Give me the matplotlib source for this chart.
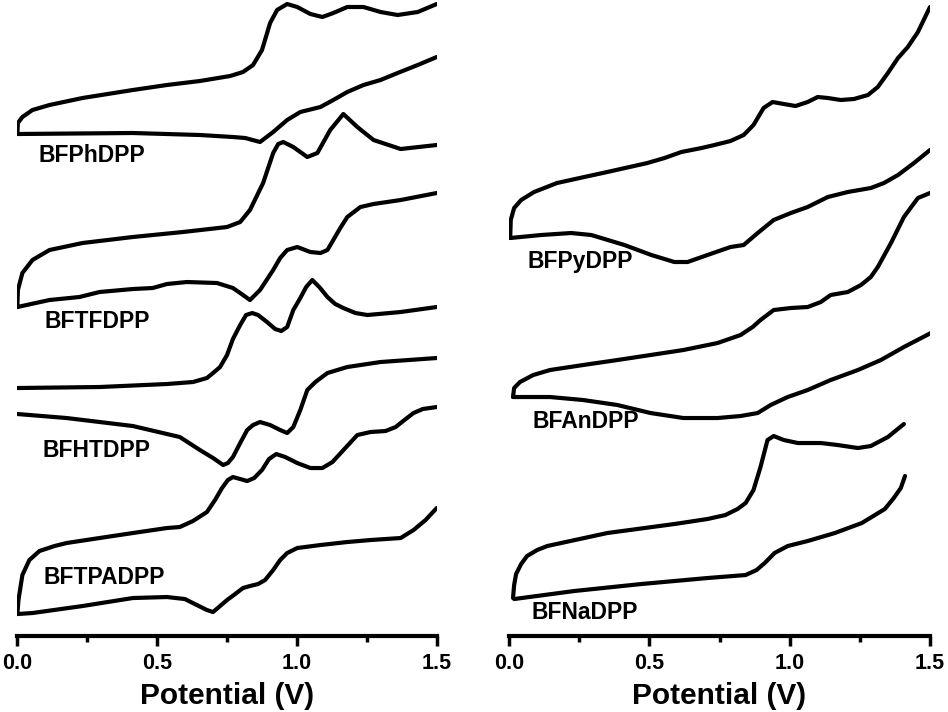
import matplotlib
matplotlib.use("Agg")
import matplotlib.pyplot as plt
from matplotlib.ticker import MultipleLocator

plt.rcParams['font.family'] = ['Liberation Sans', 'DejaVu Sans']
plt.rcParams['font.weight'] = 'bold'

# ---------------- left panel (potential in V, current in a.u. incl. offset) ----------------
# BFPhDPP
phdpp_fwd_v = [0, 0.002, 0.018, 0.054, 0.115, 0.233, 0.413, 0.535, 0.653, 0.761, 0.807, 0.843,
               0.875, 0.904, 0.929, 0.965, 1.001, 1.048, 1.091, 1.130, 1.180, 1.238, 1.299,
               1.360, 1.432, 1.5]
phdpp_fwd_i = [50.2, 51.3, 51.9, 52.6, 53.1, 53.8, 54.6, 55.1, 55.5, 56.0, 56.4, 57.1,
               58.6, 61.3, 62.6, 63.2, 62.9, 62.2, 61.9, 62.3, 62.9, 62.9, 62.4,
               62.1, 62.4, 63.2]
phdpp_rev_v = [1.5, 1.432, 1.360, 1.299, 1.238, 1.180, 1.130, 1.084, 1.012, 0.965, 0.915,
               0.868, 0.815, 0.771, 0.653, 0.413, 0]
phdpp_rev_i = [57.9, 57.1, 56.3, 55.6, 55.1, 54.4, 53.6, 52.9, 52.4, 51.6, 50.4,
               49.4, 49.8, 49.9, 50.1, 50.3, 50.2]

# BFTFDPP
tfdpp_fwd_v = [0, 0.002, 0.018, 0.054, 0.115, 0.233, 0.413, 0.592, 0.750, 0.797, 0.832,
               0.879, 0.915, 0.933, 0.951, 0.987, 1.037, 1.073, 1.119, 1.166, 1.216,
               1.274, 1.371, 1.5]
tfdpp_fwd_i = [32.9, 34.6, 36.3, 37.6, 38.6, 39.3, 39.9, 40.4, 40.9, 41.4, 42.6,
               45.3, 48.3, 49.2, 49.4, 48.9, 47.9, 48.3, 50.6, 52.2, 50.9,
               49.6, 48.7, 49.1]
tfdpp_rev_v = [1.5, 1.371, 1.274, 1.227, 1.180, 1.155, 1.130, 1.109, 1.084, 1.048, 1.001,
               0.965, 0.940, 0.915, 0.868, 0.832, 0.797, 0.771, 0.714, 0.606, 0.535,
               0.484, 0.413, 0.294, 0.222, 0.115, 0]
tfdpp_rev_i = [44.3, 43.6, 43.2, 42.9, 41.9, 40.8, 39.6, 38.6, 38.3, 38.4, 38.9,
               38.6, 37.8, 36.6, 34.6, 33.6, 34.3, 34.8, 35.3, 35.4, 35.2,
               34.8, 34.7, 34.4, 33.9, 33.6, 32.9]

# BFHTDPP
htdpp_fwd_v = [0, 0.294, 0.535, 0.628, 0.678, 0.700, 0.725, 0.750, 0.771, 0.797, 0.818,
               0.840, 0.861, 0.893, 0.922, 0.944, 0.965, 0.987, 1.012, 1.033, 1.055,
               1.080, 1.109, 1.137, 1.166, 1.209, 1.252, 1.371, 1.5]
htdpp_fwd_i = [24.8, 24.9, 25.2, 25.4, 25.8, 26.3, 26.9, 28.1, 29.7, 31.1, 32.1,
               32.3, 32.1, 31.4, 30.7, 30.5, 30.9, 32.6, 33.8, 34.9, 35.6,
               34.9, 33.9, 33.2, 32.8, 32.3, 32.1, 32.4, 32.9]
htdpp_rev_v = [1.5, 1.299, 1.180, 1.109, 1.066, 1.037, 1.012, 0.987, 0.965, 0.940, 0.904,
               0.868, 0.843, 0.822, 0.797, 0.771, 0.753, 0.736, 0.700, 0.653, 0.581,
               0.413, 0.176, 0]
htdpp_rev_i = [27.8, 27.4, 26.9, 26.3, 25.4, 24.6, 22.6, 20.9, 20.3, 20.6, 21.1,
               21.4, 21.1, 20.6, 19.3, 17.9, 17.3, 17.1, 17.8, 18.6, 19.9,
               21.0, 21.8, 22.2]

# BFTPADPP
tpadpp_fwd_v = [0, 0.004, 0.018, 0.043, 0.079, 0.133, 0.176, 0.294, 0.413, 0.535, 0.581,
                0.628, 0.678, 0.707, 0.732, 0.753, 0.771, 0.797, 0.822, 0.847, 0.875,
                0.900, 0.926, 0.958, 1.001, 1.048, 1.091, 1.127, 1.173, 1.216, 1.263,
                1.317, 1.353, 1.389, 1.417, 1.450, 1.5]
tpadpp_fwd_i = [2.2, 3.6, 6.1, 7.6, 8.5, 9.0, 9.3, 9.8, 10.3, 10.8, 10.9,
                11.5, 12.4, 13.6, 14.8, 15.6, 15.9, 15.7, 15.5, 15.8, 16.6,
                17.7, 18.2, 17.9, 17.3, 16.8, 16.8, 17.4, 18.8, 20.1, 20.4,
                20.5, 20.9, 21.7, 22.3, 22.7, 22.9]
tpadpp_rev_v = [1.5, 1.460, 1.417, 1.371, 1.263, 1.180, 1.084, 1.001, 0.965, 0.940, 0.915,
                0.886, 0.861, 0.832, 0.807, 0.779, 0.750, 0.725, 0.700, 0.678, 0.642,
                0.599, 0.535, 0.413, 0.233, 0.054, 0]
tpadpp_rev_i = [12.8, 11.6, 10.6, 9.8, 9.6, 9.4, 9.1, 8.8, 8.3, 7.6, 6.6,
                5.6, 5.2, 5.0, 4.8, 4.2, 3.6, 3.0, 2.4, 2.6, 3.1,
                3.7, 3.9, 3.8, 3.0, 2.3, 2.2]

# ---------------- right panel ----------------
# BFPyDPP
pydpp_fwd_v = [0.004, 0.006, 0.018, 0.043, 0.089, 0.171, 0.268, 0.350, 0.493, 0.554, 0.614,
               0.686, 0.732, 0.789, 0.836, 0.871, 0.907, 0.939, 0.979, 1.021, 1.064,
               1.100, 1.136, 1.182, 1.229, 1.279, 1.314, 1.350, 1.386, 1.421, 1.457, 1.5]
pydpp_fwd_i = [39.8, 41.6, 42.8, 43.6, 44.4, 45.3, 45.9, 46.4, 47.3, 47.8, 48.4,
               48.8, 49.1, 49.5, 50.1, 51.1, 52.8, 53.4, 53.2, 53.0, 53.4,
               53.9, 53.8, 53.6, 53.7, 54.1, 54.9, 56.3, 57.8, 58.9, 60.4, 62.9]
pydpp_rev_v = [1.5, 1.443, 1.386, 1.336, 1.289, 1.207, 1.136, 1.064, 1.004, 0.943, 0.886,
               0.836, 0.789, 0.707, 0.636, 0.589, 0.507, 0.411, 0.293, 0.221, 0.114, 0.004]
pydpp_rev_i = [48.6, 47.3, 46.1, 45.3, 44.8, 44.4, 43.9, 42.9, 42.3, 41.6, 40.3,
               39.1, 38.9, 38.1, 37.4, 37.4, 38.1, 39.1, 40.1, 40.3, 40.1, 39.8]

# BFAnDPP
andpp_fwd_v = [0.014, 0.018, 0.039, 0.086, 0.146, 0.264, 0.386, 0.504, 0.621, 0.743, 0.825,
               0.868, 0.896, 0.943, 1.004, 1.064, 1.111, 1.146, 1.207, 1.254, 1.289,
               1.314, 1.361, 1.407, 1.457, 1.5]
andpp_fwd_i = [23.9, 24.8, 25.4, 26.1, 26.6, 27.1, 27.6, 28.1, 28.6, 29.3, 30.1,
               30.9, 31.6, 32.6, 32.8, 32.9, 33.4, 34.1, 34.4, 35.1, 35.9,
               36.9, 39.3, 41.9, 43.8, 44.3]
andpp_rev_v = [1.51, 1.407, 1.325, 1.243, 1.146, 1.064, 0.993, 0.932, 0.886, 0.825, 0.743,
               0.621, 0.504, 0.386, 0.264, 0.146, 0.014]
andpp_rev_i = [30.4, 28.9, 27.6, 26.6, 25.6, 24.6, 23.9, 23.1, 22.3, 22.0, 21.8,
               21.8, 22.3, 23.1, 23.6, 23.9, 23.9]

# BFNaDPP
nadpp_fwd_v = [0.014, 0.018, 0.025, 0.043, 0.064, 0.100, 0.136, 0.350, 0.589, 0.707, 0.771,
               0.814, 0.843, 0.871, 0.896, 0.921, 0.943, 0.979, 1.029, 1.111, 1.171,
               1.243, 1.289, 1.350, 1.407]
nadpp_fwd_i = [3.8, 5.1, 6.2, 7.2, 8.0, 8.6, 9.0, 10.3, 11.2, 11.7, 12.1,
               12.7, 13.3, 14.6, 16.9, 19.6, 20.0, 19.6, 19.3, 19.3, 19.1,
               18.8, 19.0, 19.9, 21.2]
nadpp_rev_v = [1.411, 1.396, 1.371, 1.339, 1.257, 1.161, 1.064, 0.993, 0.946, 0.911, 0.882,
               0.843, 0.707, 0.471, 0.232, 0.018]
nadpp_rev_i = [16.0, 14.8, 13.8, 12.7, 11.3, 10.3, 9.5, 9.0, 8.3, 7.3, 6.6,
               6.1, 5.8, 5.2, 4.5, 3.7]

# labels
left_names = ["BFPhDPP", "BFTFDPP", "BFHTDPP", "BFTPADPP"]
left_label_v = [0.075, 0.097, 0.090, 0.093]
left_label_i = [47.4, 30.8, 17.9, 5.2]
right_names = ["BFPyDPP", "BFAnDPP", "BFNaDPP"]
right_label_v = [0.064, 0.082, 0.079]
right_label_i = [36.8, 20.8, 1.7]

left_curves = [(phdpp_fwd_v, phdpp_fwd_i), (phdpp_rev_v, phdpp_rev_i),
               (tfdpp_fwd_v, tfdpp_fwd_i), (tfdpp_rev_v, tfdpp_rev_i),
               (htdpp_fwd_v, htdpp_fwd_i), (htdpp_rev_v, htdpp_rev_i),
               (tpadpp_fwd_v, tpadpp_fwd_i), (tpadpp_rev_v, tpadpp_rev_i)]
right_curves = [(pydpp_fwd_v, pydpp_fwd_i), (pydpp_rev_v, pydpp_rev_i),
                (andpp_fwd_v, andpp_fwd_i), (andpp_rev_v, andpp_rev_i),
                (nadpp_fwd_v, nadpp_fwd_i), (nadpp_rev_v, nadpp_rev_i)]

fig = plt.figure(figsize=(9.48, 7.12), dpi=100)
ax1 = fig.add_axes([0.0183, 0.1067, 0.4424, 0.8933])
ax2 = fig.add_axes([0.537, 0.1067, 0.444, 0.8933])


def style_axis(ax):
    for s in ['left', 'top', 'right']:
        ax.spines[s].set_visible(False)
    ax.spines['bottom'].set_linewidth(3)
    ax.set_xlim(0, 1.5)
    ax.set_ylim(0, 63.6)
    ax.set_yticks([])
    ax.set_xticks([0, 0.5, 1.0, 1.5])
    ax.set_xticklabels(['0.0', '0.5', '1.0', '1.5'])
    ax.xaxis.set_minor_locator(MultipleLocator(0.25))
    ax.tick_params(axis='x', which='major', length=7, width=2.5, direction='out',
                   labelsize=15.5, pad=5)
    ax.tick_params(axis='x', which='minor', length=4, width=2.5, direction='out')
    ax.set_xlabel('Potential (V)', fontsize=21.5, fontweight='bold', labelpad=6)


for ax, curves, names, lv, li in [(ax1, left_curves, left_names, left_label_v, left_label_i),
                                  (ax2, right_curves, right_names, right_label_v, right_label_i)]:
    for v, i in curves:
        ax.plot(v, i, color='black', lw=3, solid_joinstyle='round', solid_capstyle='round')
    for name, x, y in zip(names, lv, li):
        ax.text(x, y, name, fontsize=16.5, fontweight='bold', ha='left', va='baseline')
    style_axis(ax)

plt.savefig('out.png', dpi=100)
